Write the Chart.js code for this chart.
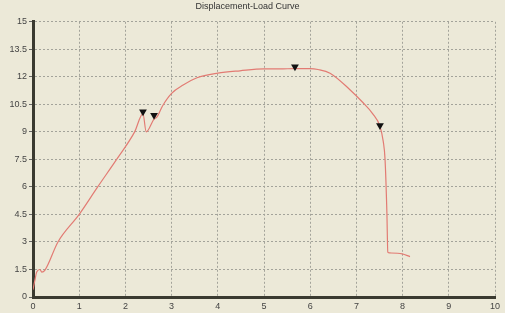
<!DOCTYPE html>
<html>
<head>
<meta charset="utf-8">
<script src="https://cdn.jsdelivr.net/npm/chart.js"></script>
<style>
  html, body { margin: 0; padding: 0; background: #ECE9D8; }
  #wrap { width: 505px; height: 313px; }
</style>
</head>
<body>
<div id="wrap"><canvas id="curveChart" width="505" height="313"></canvas></div>
<script>
// Courbe déplacement-charge
const dispValues = [0, 0.04, 0.08, 0.15, 0.19, 0.26, 0.54, 1.0, 1.4, 1.81, 2.2, 2.38, 2.45, 2.62, 2.68, 2.8, 3.0, 3.25, 3.55, 4.0, 4.48, 5.0, 5.35, 5.67, 6.0, 6.17, 6.43, 6.86, 7.14, 7.35, 7.51, 7.58, 7.62, 7.66, 7.68, 7.72, 7.99, 8.16];
const loadValues = [0.4, 0.9, 1.36, 1.5, 1.36, 1.47, 3.0, 4.5, 6.0, 7.5, 9.0, 10.0, 9.0, 9.7, 9.8, 10.4, 11.1, 11.55, 11.95, 12.2, 12.33, 12.43, 12.43, 12.45, 12.45, 12.4, 12.2, 11.3, 10.6, 10.0, 9.3, 8.5, 7.5, 4.6, 2.45, 2.4, 2.35, 2.2];

// Marqueurs (triangles)
const markerDisp = [2.38, 2.62, 5.67, 7.51];
const markerLoad = [10.1, 9.9, 12.55, 9.35];

const xTicks = [0, 1, 2, 3, 4, 5, 6, 7, 8, 9, 10];
const yTicks = [0, 1.5, 3, 4.5, 6, 7.5, 9, 10.5, 12, 13.5, 15];

const curvePoints = dispValues.map((x, i) => ({ x: x, y: loadValues[i] }));
const markerPoints = markerDisp.map((x, i) => ({ x: x, y: markerLoad[i] }));

const ctx = document.getElementById('curveChart');
new Chart(ctx, {
    type: 'scatter',
    data: {
        datasets: [{
            label: 'Load',
            data: curvePoints,
            showLine: true,
            borderColor: '#e27b73',
            borderWidth: 1.2,
            pointRadius: 0,
            cubicInterpolationMode: 'monotone',
            order: 2
        }, {
            label: 'Markers',
            data: markerPoints,
            showLine: false,
            pointStyle: 'triangle',
            rotation: 180,
            pointRadius: 4.5,
            backgroundColor: '#111',
            borderColor: '#111',
            borderWidth: 0,
            order: 1
        }]
    },
    options: {
        responsive: false,
        animation: false,
        layout: { padding: { left: 0, right: 10, top: 0, bottom: 0 } },
        plugins: {
            legend: { display: false },
            tooltip: { enabled: false },
            title: {
                display: true,
                text: 'Displacement-Load Curve',
                color: '#333',
                font: { family: 'Arial, "Liberation Sans", sans-serif', size: 9, weight: 'normal' },
                padding: { top: 1, bottom: 10 }
            }
        },
        scales: {
            x: {
                type: 'linear',
                min: 0,
                max: 10,
                afterBuildTicks: (scale) => { scale.ticks = xTicks.map(v => ({ value: v })); },
                afterFit: (scale) => { scale.height = 16; },
                grid: {
                    color: '#a3a39a',
                    lineWidth: 1,
                    drawTicks: false
                },
                border: { display: true, color: '#3a3a30', width: 3, dash: [2, 2] },
                ticks: {
                    color: '#444',
                    padding: 4,
                    maxRotation: 0,
                    font: { family: 'Arial, "Liberation Sans", sans-serif', size: 9 }
                }
            },
            y: {
                type: 'linear',
                min: 0,
                max: 15,
                afterBuildTicks: (scale) => { scale.ticks = yTicks.map(v => ({ value: v })); },
                afterFit: (scale) => { scale.width = 33; },
                grid: {
                    color: '#a3a39a',
                    lineWidth: 1,
                    drawTicks: true,
                    tickLength: 4,
                    tickColor: '#666'
                },
                border: { display: true, color: '#3a3a30', width: 3, dash: [2, 2] },
                ticks: {
                    color: '#444',
                    padding: 2,
                    font: { family: 'Arial, "Liberation Sans", sans-serif', size: 9 }
                }
            }
        }
    }
});
</script>
</body>
</html>
